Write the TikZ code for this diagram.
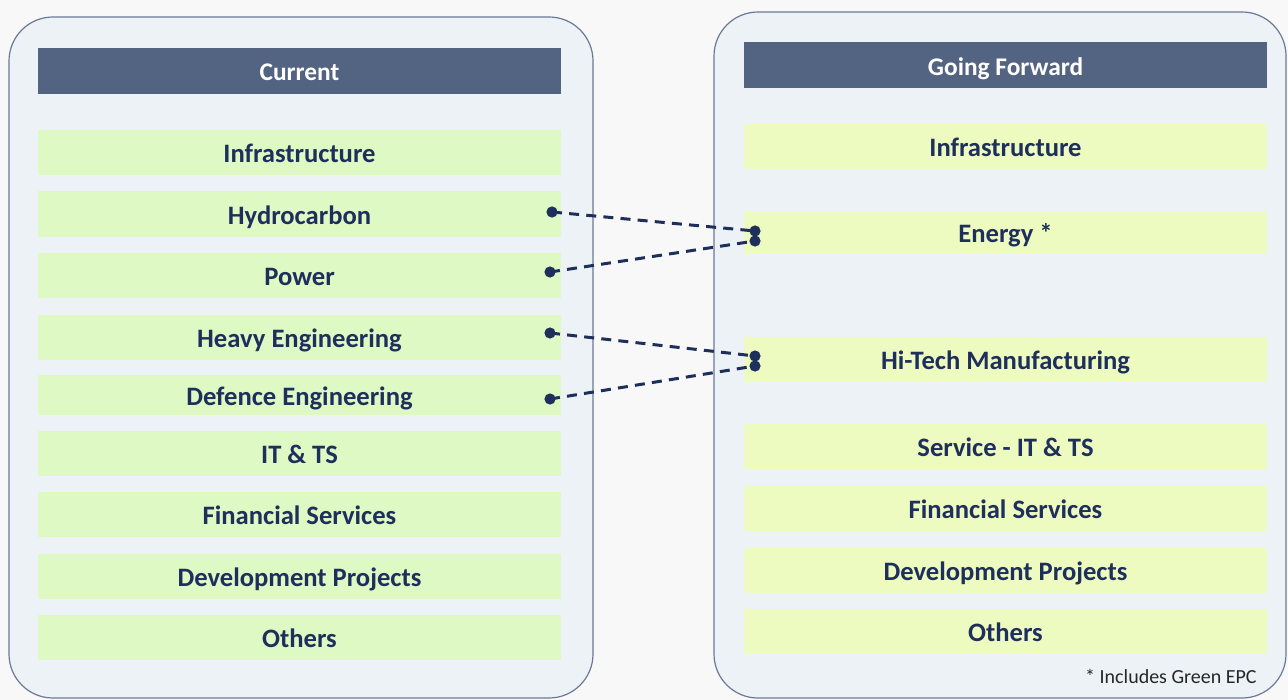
\documentclass[tikz,border=0pt]{standalone}
\usepackage{fontspec}
\setmainfont{Carlito}
\begin{document}
\definecolor{pagebg}{HTML}{F8F8F8}
\definecolor{panelfill}{HTML}{EDF2F6}
\definecolor{panelline}{HTML}{6C7898}
\definecolor{headfill}{HTML}{536382}
\definecolor{leftbar}{HTML}{DEF9C3}
\definecolor{rightbar}{HTML}{EEFBC0}
\definecolor{ink}{HTML}{1E2F5C}
\begin{tikzpicture}[x=0.5pt,y=-0.5pt,
  panel/.style={draw=panelline, line width=0.6pt, fill=panelfill, rounded corners=22pt},
  header/.style={fill=headfill, text=white, font=\fontsize{12.7}{14}\selectfont\bfseries,
    minimum width=261.5pt, minimum height=23pt, inner sep=0pt,
    text height=9.6pt, text depth=0pt},
  lbar/.style={fill=leftbar, text=ink, font=\fontsize{13.3}{15}\selectfont\bfseries,
    minimum width=261.5pt, minimum height=22.5pt, inner sep=0pt,
    text height=10pt, text depth=0pt},
  rbar/.style={lbar, fill=rightbar},
  link/.style={draw=ink, line width=1.5pt, dash pattern=on 5pt off 3.6pt},
  dot/.style={fill=ink}
]
\useasboundingbox (0,0) rectangle (1288,700);
\fill[pagebg] (0,0) rectangle (1288,700);

% two panels
\draw[panel] (9,17) rectangle (593,698);
\draw[panel] (714,12) rectangle (1286,698);

% left column
\node[header] (curhead) at (299.5,71) {Current};
\node[lbar] (infra)  at (299.5,153) {Infrastructure};
\node[lbar] (hydro)  at (299.5,214) {Hydrocarbon};
\node[lbar] (power)  at (299.5,275.5) {Power};
\node[lbar] (heavy)  at (299.5,337) {Heavy Engineering};
\node[lbar, minimum height=20pt] (defence) at (299.5,395) {Defence Engineering};
\node[lbar] (itts)   at (299.5,453.5) {IT \& TS};
\node[lbar] (fin)    at (299.5,514.5) {Financial Services};
\node[lbar] (dev)    at (299.5,576) {Development Projects};
\node[lbar] (others) at (299.5,637) {Others};

% right column
\node[header] (fwdhead) at (1005.5,65.5) {Going Forward};
\node[rbar] (rinfra)  at (1005.5,146.5) {Infrastructure};
\node[rbar, minimum height=21.5pt] (energy) at (1005.5,232.5) {Energy *};
\node[rbar] (hitech)  at (1005.5,359.5) {Hi-Tech Manufacturing};
\node[rbar] (service) at (1005.5,446.5) {Service - IT \& TS};
\node[rbar] (rfin)    at (1005.5,508.5) {Financial Services};
\node[rbar] (rdev)    at (1005.5,570.5) {Development Projects};
\node[rbar] (rothers) at (1005.5,631.5) {Others};

\node[anchor=east, text=black!85, font=\fontsize{10}{12}\selectfont, inner sep=0pt]
  (note) at (1257,676) {* Includes Green EPC};

% link end points
\coordinate (hydroEnd)  at (552,212);
\coordinate (powerEnd)  at (550,272);
\coordinate (heavyEnd)  at (550,333);
\coordinate (defEnd)    at (550,399);
\coordinate (energyA)   at (755,231);
\coordinate (energyB)   at (755,241);
\coordinate (hitechA)   at (755,356);
\coordinate (hitechB)   at (755,366);

\draw[link] (hydroEnd) -- (energyA);
\draw[link] (powerEnd) -- (energyB);
\draw[link] (heavyEnd) -- (hitechA);
\draw[link] (defEnd) -- (hitechB);
\foreach \p in {hydroEnd,powerEnd,heavyEnd,defEnd,energyA,energyB,hitechA,hitechB}
  \fill[dot] (\p) circle (2.8pt);
\end{tikzpicture}
\end{document}
